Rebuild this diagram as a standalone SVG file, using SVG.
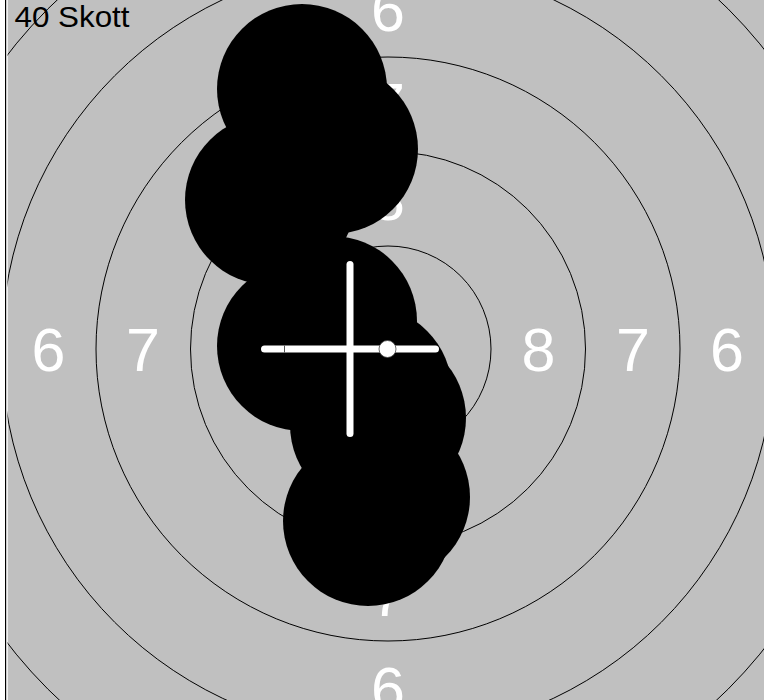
<svg xmlns="http://www.w3.org/2000/svg" width="764" height="700" viewBox="0 0 764 700">
<style>
.ring{fill:none;stroke:#000;stroke-width:1}
.lbl{fill:#fff;font-family:"Liberation Sans",Arial,sans-serif;font-size:61px;text-anchor:middle}
.shot{fill:#000}
.cross{stroke:#fff;stroke-width:7;stroke-linecap:round}
</style>
<defs>
<clipPath id="area"><rect x="7.5" y="0" width="757" height="700"/></clipPath>
</defs>
<rect x="0" y="0" width="764" height="700" fill="#fff"/>
<rect x="5" y="0" width="1.2" height="700" fill="#000"/>
<g clip-path="url(#area)">
<rect x="7.5" y="0" width="757" height="700" fill="#c0c0c0"/>
<g id="rings">
<circle class="ring" cx="388" cy="349" r="103"/>
<circle class="ring" cx="388" cy="349" r="197.5"/>
<circle class="ring" cx="388" cy="349" r="292"/>
<circle class="ring" cx="388" cy="349" r="386.5"/>
<circle class="ring" cx="388" cy="349" r="481"/>
</g>
<g id="labels">
<text class="lbl" x="48.5" y="370.5">6</text>
<text class="lbl" x="143" y="370.5">7</text>
<text class="lbl" x="538.5" y="370.5">8</text>
<text class="lbl" x="633" y="370.5">7</text>
<text class="lbl" x="727" y="370.5">6</text>
<text class="lbl" x="388" y="31">6</text>
<text class="lbl" x="388" y="125.5">7</text>
<text class="lbl" x="388" y="220">8</text>
<text class="lbl" x="388" y="615.5">7</text>
<text class="lbl" x="388" y="710">6</text>
</g>
<g id="shots">
<circle class="shot" cx="302" cy="89" r="85"/>
<circle class="shot" cx="333" cy="149" r="85"/>
<circle class="shot" cx="270" cy="200" r="85"/>
<circle class="shot" cx="332" cy="321" r="85"/>
<circle class="shot" cx="302" cy="346" r="85"/>
<circle class="shot" cx="367" cy="391" r="85"/>
<circle class="shot" cx="381" cy="418" r="85"/>
<circle class="shot" cx="375" cy="425" r="85"/>
<circle class="shot" cx="385" cy="497" r="85"/>
<circle class="shot" cx="368" cy="521" r="85"/>
</g>
<g id="crosshair">
<line class="cross" x1="350" y1="264.5" x2="350" y2="433.5"/>
<line class="cross" x1="264.5" y1="349" x2="435.5" y2="349"/>
<line x1="284.5" y1="345.5" x2="284.5" y2="352.5" stroke="#555" stroke-width="1"/>
<circle cx="387.5" cy="349" r="8.5" fill="#fff" stroke="#444" stroke-width="0.8"/>
</g>
<text id="title" x="14.5" y="27" font-family="Liberation Sans, Arial, sans-serif" font-size="30" textLength="115" lengthAdjust="spacingAndGlyphs" fill="#000">40 Skott</text>
</g>
</svg>
